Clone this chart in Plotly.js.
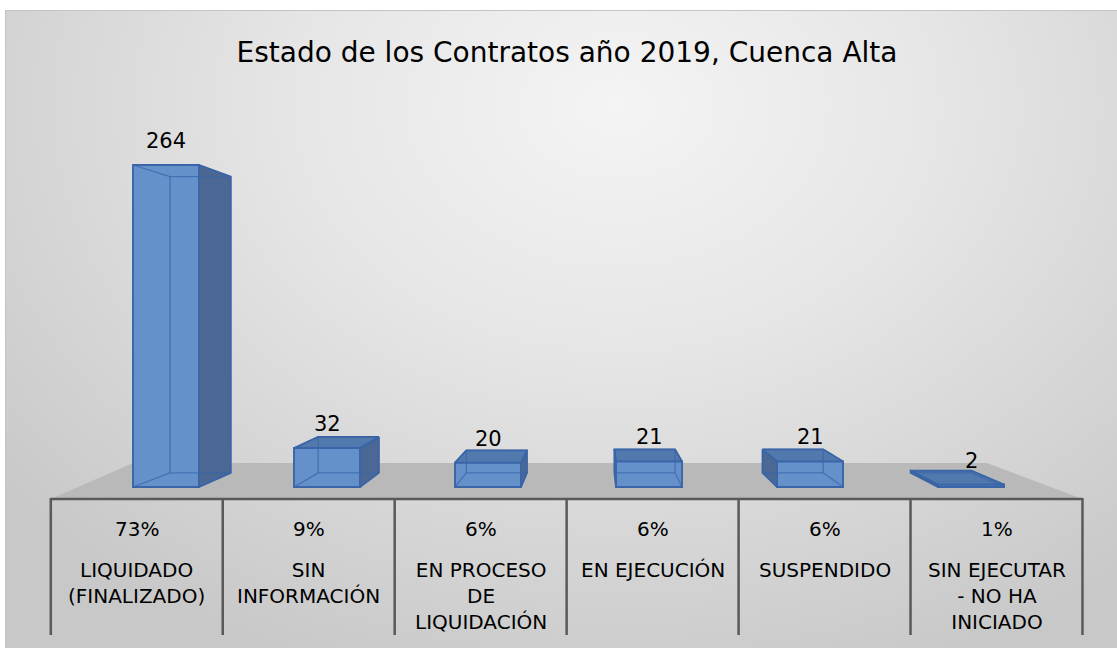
<!DOCTYPE html>
<html><head><meta charset="utf-8">
<script src="https://cdn.plot.ly/plotly-3.0.1.min.js"></script>
<style>
html,body{margin:0;padding:0;background:#fff;overflow:hidden;}
#bg{position:absolute;left:5px;top:10px;width:1112px;height:638px;border-top:1px solid #c4c4c4;border-left:1px solid #c4c4c4;box-sizing:border-box;
background:radial-gradient(ellipse 72% 95% at 55% 15%, #f4f4f4 0%, #e6e6e6 40%, #c8c8c8 100%);}
#chart{position:absolute;left:0;top:0;width:1117px;height:648px;}
</style></head><body>
<div id="bg"></div><div id="chart"></div>
<script>
// ---- data ----
const chartTitle = "Estado de los Contratos año 2019, Cuenca Alta";
const categories = ["LIQUIDADO<br>(FINALIZADO)", "SIN<br>INFORMACIÓN", "EN PROCESO<br>DE<br>LIQUIDACIÓN", "EN EJECUCIÓN", "SUSPENDIDO", "SIN EJECUTAR<br>- NO HA<br>INICIADO"];
const values = [264, 32, 20, 21, 21, 2];

// ---- layout geometry (pixels -> data mapping) ----
const W = 1117, H = 648;
const X0 = 166, DX = 161;     // px of category 0, px per category
const Y0 = 487, KY = 1.2197;  // px of value 0, px per unit
const dx = p => (p - X0) / DX;
const dy = p => (Y0 - p) / KY;
const VP = {x: dx(596), y: dy(310)};   // vanishing point
const DEPTH = 0.92;                    // back-face scale
const TABLE = 1.068;                   // table front plane scale
const BW = 0.41;                       // bar front width (category units)
const proj = (x, y, k) => [VP.x + k * (x - VP.x), VP.y + k * (y - VP.y)];

const total = values.reduce((a, b) => a + b, 0);
const pct = values.map(v => Math.round(v / total * 100) + '%');

const edge = '#3a65a8';
const traces = [];
const hx = [], hy = [];
values.forEach((v, i) => {
  const xl = i - BW / 2, xr = i + BW / 2;
  const B = (x, y) => proj(x, y, DEPTH);
  const bl0 = B(xl, 0), br0 = B(xr, 0), bl1 = B(xl, v), br1 = B(xr, v);
  const segs = [
    [bl0, br0], [br0, br1], [br1, bl1], [bl1, bl0],
    [[xl, 0], bl0], [[xr, 0], br0], [[xl, v], bl1], [[xr, v], br1]
  ];
  segs.forEach(s => { hx.push(s[0][0], s[1][0], null); hy.push(s[0][1], s[1][1], null); });
  let side;
  if (xr < VP.x) side = [[xr, 0], [xr, v], br1, br0];
  else if (xl > VP.x) side = [[xl, 0], [xl, v], bl1, bl0];
  if (side) {
    traces.push({type: 'scatter', mode: 'lines', x: side.map(p => p[0]).concat([side[0][0]]),
      y: side.map(p => p[1]).concat([side[0][1]]), fill: 'toself', fillcolor: '#4a6893',
      line: {color: edge, width: 1.7}, hoverinfo: 'skip'});
  }
  if (v < VP.y) {
    const top = [[xl, v], [xr, v], br1, bl1];
    traces.push({type: 'scatter', mode: 'lines', x: top.map(p => p[0]).concat([top[0][0]]),
      y: top.map(p => p[1]).concat([top[0][1]]), fill: 'toself', fillcolor: '#5279ad',
      line: {color: edge, width: 1.7}, hoverinfo: 'skip'});
  }
});
traces.unshift({type: 'bar', x: values.map((v, i) => i), y: values, base: 0, width: BW,
  marker: {color: '#6591cb', line: {color: edge, width: 1.9}}, hoverinfo: 'skip'});
traces.push({type: 'scatter', mode: 'lines', x: hx, y: hy, connectgaps: false,
  line: {color: 'rgba(58,101,168,0.75)', width: 1.3}, hoverinfo: 'skip'});

// ---- shapes: floor and table ----
const shapes = [];
const tl = proj(-0.5, 0, TABLE), tr = proj(5.5, 0, TABLE);
shapes.push({type: 'path', xref: 'x', yref: 'y', layer: 'below',
  path: `M${tl[0]},${tl[1]} L${dx(133)},${dy(463)} L${dx(987)},${dy(463)} L${tr[0]},${tr[1]} Z`,
  fillcolor: '#b9b9b9', line: {width: 0}});
shapes.push({type: 'line', xref: 'x', yref: 'y', x0: tl[0], x1: tr[0], y0: tl[1], y1: tr[1],
  line: {color: '#595959', width: 2.5}});
for (let k = 0; k <= values.length; k++) {
  const p = proj(k - 0.5, 0, TABLE);
  shapes.push({type: 'line', xref: 'x', yref: 'y', x0: p[0], x1: p[0], y0: dy(498), y1: dy(635),
    line: {color: '#595959', width: 2.5}});
}

// ---- annotations ----
const FONT = 'DejaVu Sans, Verdana, sans-serif';
const ann = [];
values.forEach((v, i) => {
  ann.push({xref: 'x', yref: 'y', x: i, y: v, text: String(v), showarrow: false,
    yanchor: 'middle', yshift: 24, font: {family: FONT, size: 21, color: '#000'}});
  const c = proj(i, 0, TABLE)[0];
  ann.push({xref: 'x', yref: 'y', x: c, y: dy(529), text: pct[i], showarrow: false,
    yanchor: 'middle', font: {family: FONT, size: 20, color: '#000'}});
  ann.push({xref: 'x', yref: 'y', x: c, y: dy(556), text: categories[i], showarrow: false,
    yanchor: 'top', align: 'center', font: {family: FONT, size: 20, color: '#000'}});
});

const layout = {
  width: W, height: H, margin: {l: 0, r: 0, t: 0, b: 0},
  paper_bgcolor: 'rgba(0,0,0,0)', plot_bgcolor: 'rgba(0,0,0,0)',
  showlegend: false, barmode: 'overlay',
  title: {text: chartTitle, x: 567 / W, y: 1 - 52 / H, xanchor: 'center', yanchor: 'middle',
    font: {family: FONT, size: 28, color: '#000'}},
  xaxis: {range: [dx(0), dx(W)], visible: false, fixedrange: true},
  yaxis: {range: [dy(H), dy(0)], visible: false, fixedrange: true},
  shapes: shapes, annotations: ann
};
Plotly.newPlot('chart', traces, layout, {displayModeBar: false, staticPlot: true});
</script>
</body></html>
